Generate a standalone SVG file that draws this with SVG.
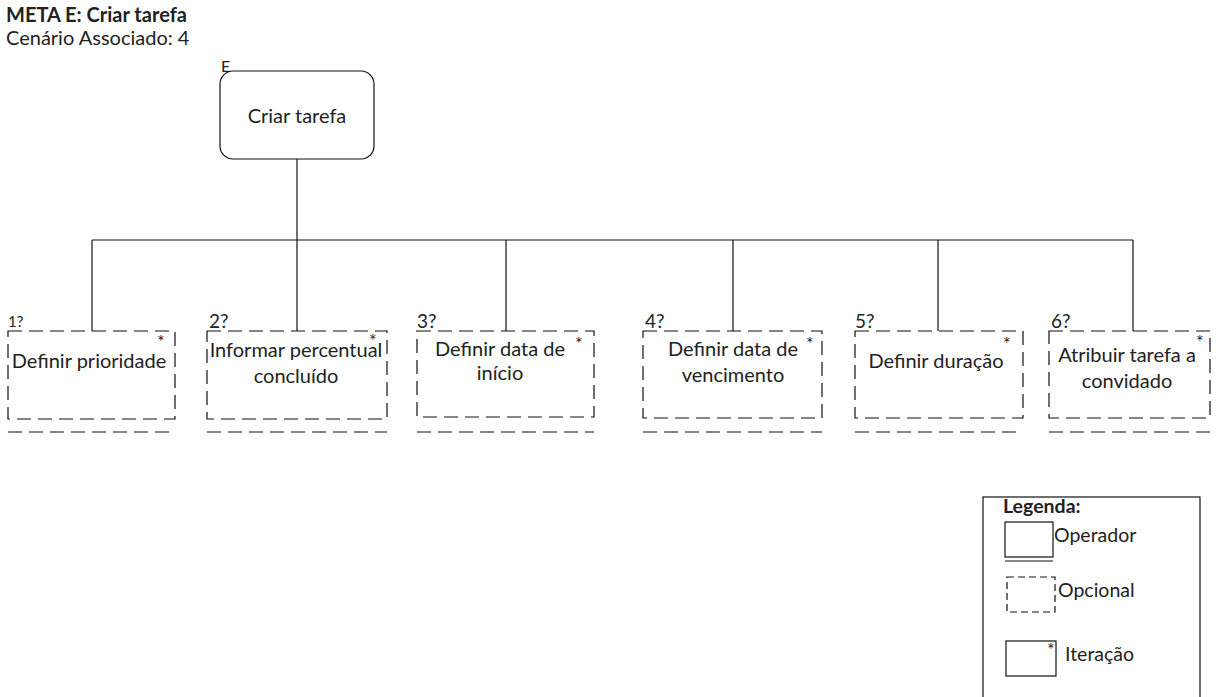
<svg xmlns="http://www.w3.org/2000/svg" width="1217" height="697" viewBox="0 0 1217 697">
  <style>
    text { font-family: Lato, "Open Sans", "Liberation Sans", sans-serif; fill: #222; }
    .title { font-size: 20px; font-weight: bold; }
    .sub { font-size: 20px; }
    .lbl { font-size: 20px; text-anchor: middle; }
    .num { font-size: 19px; }
    .star { font-size: 18px; }
    .line { stroke: #111; stroke-width: 1.2; fill: none; }
    .opt { stroke: #111; stroke-width: 1.2; fill: none; stroke-dasharray: 14 7; }
    .leg { font-size: 19.5px; }
  </style>

  <text class="title" x="6" y="22">META E: Criar tarefa</text>
  <text class="sub" x="6" y="45">Cenário Associado: 4</text>

  <!-- connectors -->
  <g id="connectors">
    <line class="line" x1="297" y1="159" x2="297" y2="240"/>
    <line class="line" x1="92" y1="240" x2="1133" y2="240"/>
    <line class="line" x1="92" y1="240" x2="92" y2="331"/>
    <line class="line" x1="297" y1="240" x2="297" y2="331"/>
    <line class="line" x1="506" y1="240" x2="506" y2="331"/>
    <line class="line" x1="733" y1="240" x2="733" y2="331"/>
    <line class="line" x1="938" y1="240" x2="938" y2="331"/>
    <line class="line" x1="1133" y1="240" x2="1133" y2="331"/>
  </g>

  <!-- root goal -->
  <g id="root">
    <text x="221" y="72" style="font-size:16px">E</text>
    <rect class="line" x="220" y="71" width="154" height="88" rx="13"/>
    <text class="lbl" x="297" y="123">Criar tarefa</text>
  </g>

  <g id="n1">
    <text x="8" y="327" style="font-size:15px">1?</text>
    <rect class="opt" x="8" y="331" width="167" height="88"/>
    <line class="opt" x1="8" y1="432" x2="175" y2="432"/>
    <text class="star" x="157" y="348">*</text>
    <text class="lbl" x="89" y="368">Definir prioridade</text>
  </g>

  <g id="n2">
    <text class="num" x="209" y="328">2?</text>
    <rect class="opt" x="207" y="331" width="180" height="88"/>
    <line class="opt" x1="207" y1="432" x2="387" y2="432"/>
    <text class="star" x="369" y="347">*</text>
    <text class="lbl" x="296" y="357">Informar percentual</text>
    <text class="lbl" x="296" y="383">concluído</text>
  </g>

  <g id="n3">
    <text class="num" x="417" y="328">3?</text>
    <rect class="opt" x="417" y="331" width="177" height="86"/>
    <line class="opt" x1="417" y1="432" x2="594" y2="432"/>
    <text class="star" x="575" y="350">*</text>
    <text class="lbl" x="500" y="356">Definir data de</text>
    <text class="lbl" x="500" y="380">início</text>
  </g>

  <g id="n4">
    <text class="num" x="645" y="328">4?</text>
    <rect class="opt" x="643" y="331" width="179" height="87"/>
    <line class="opt" x1="643" y1="432" x2="822" y2="432"/>
    <text class="star" x="806" y="350">*</text>
    <text class="lbl" x="733" y="356">Definir data de</text>
    <text class="lbl" x="733" y="382">vencimento</text>
  </g>

  <g id="n5">
    <text class="num" x="855" y="328">5?</text>
    <rect class="opt" x="855" y="331" width="168" height="87"/>
    <line class="opt" x1="855" y1="432" x2="1023" y2="432"/>
    <text class="star" x="1003" y="350">*</text>
    <text class="lbl" x="936" y="368">Definir duração</text>
  </g>

  <g id="n6">
    <text class="num" x="1051" y="328">6?</text>
    <rect class="opt" x="1049" y="331" width="161" height="87"/>
    <line class="opt" x1="1049" y1="432" x2="1210" y2="432"/>
    <text class="star" x="1196" y="348">*</text>
    <text class="lbl" x="1127" y="362">Atribuir tarefa a</text>
    <text class="lbl" x="1127" y="388">convidado</text>
  </g>

  <!-- legend -->
  <g id="legend">
    <rect class="line" x="983" y="497" width="217" height="210"/>
    <text class="leg" x="1003" y="513" style="font-weight:bold">Legenda:</text>
    <rect class="line" x="1005" y="522" width="48" height="35"/>
    <line class="line" x1="1005" y1="561" x2="1053" y2="561"/>
    <text class="leg" x="1054" y="542">Operador</text>
    <rect x="1007" y="577" width="48" height="35" style="stroke:#111;stroke-width:1.2;fill:none;stroke-dasharray:7 4"/>
    <text class="leg" x="1058" y="597">Opcional</text>
    <rect class="line" x="1006" y="641" width="50" height="35"/>
    <text class="star" x="1047" y="656">*</text>
    <text class="leg" x="1065" y="661">Iteração</text>
  </g>
</svg>
